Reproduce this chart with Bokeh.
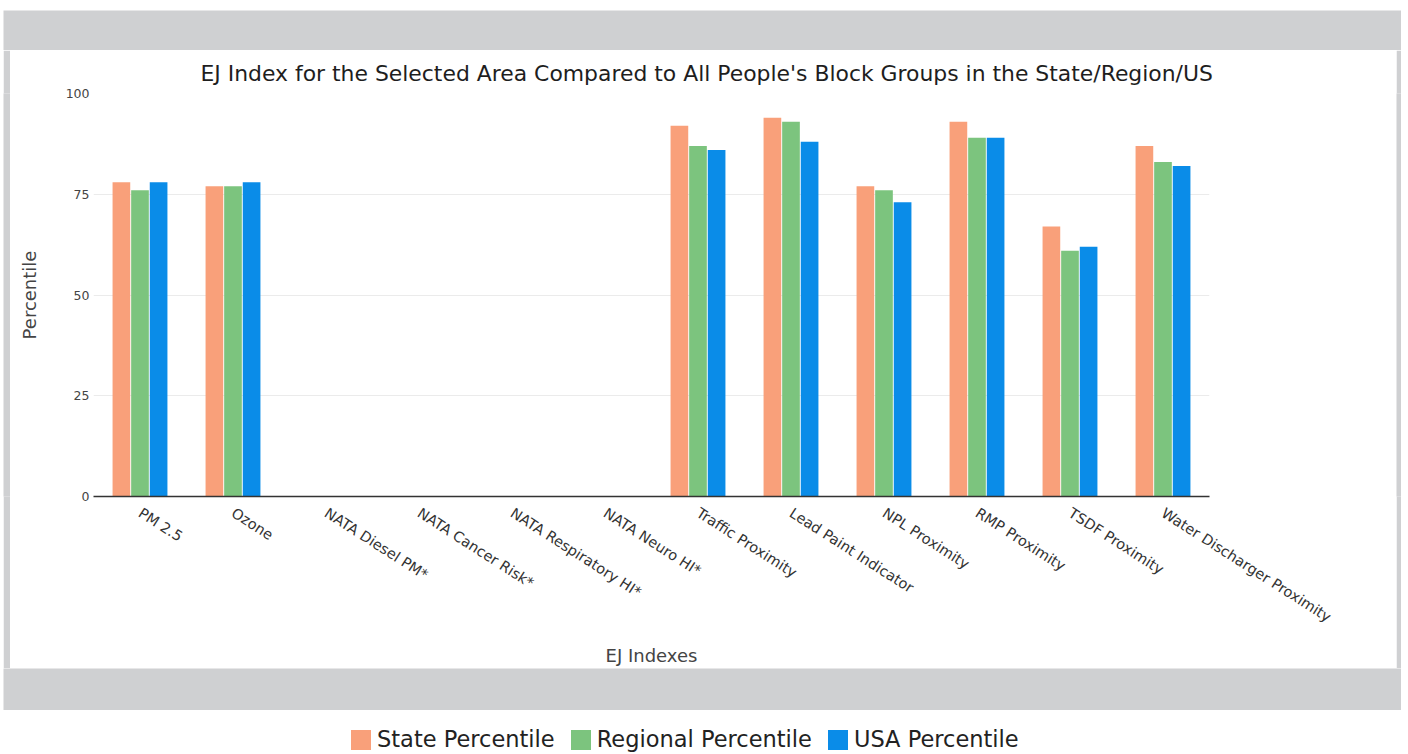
from bokeh.plotting import figure
from bokeh.models import (ColumnDataSource, FactorRange, Range1d, FixedTicker,
                          Legend, LegendItem)
from bokeh.layouts import column, row
from bokeh.transform import dodge
from bokeh.embed import file_html
from bokeh.resources import INLINE

# ---- data ----
categories = ["PM 2.5", "Ozone", "NATA Diesel PM*", "NATA Cancer Risk*",
              "NATA Respiratory HI*", "NATA Neuro HI*", "Traffic Proximity",
              "Lead Paint Indicator", "NPL Proximity", "RMP Proximity",
              "TSDF Proximity", "Water Discharger Proximity"]
state_pct = [78, 77, 0, 0, 0, 0, 92, 94, 77, 93, 67, 87]
regional_pct = [76, 77, 0, 0, 0, 0, 87, 93, 76, 89, 61, 83]
usa_pct = [78, 78, 0, 0, 0, 0, 86, 88, 73, 89, 62, 82]
y_ticks = [0, 25, 50, 75, 100]
series_names = ["State Percentile", "Regional Percentile", "USA Percentile"]

ORANGE = "#F9A07A"
GREEN = "#7CC47E"
BLUE = "#0A8CE8"
GRAY = "#cfd0d2"
FONT = "DejaVu Sans"

source = ColumnDataSource(dict(cats=categories, state=state_pct,
                               regional=regional_pct, usa=usa_pct))

x_range = FactorRange(factors=categories, range_padding=0)

p = figure(x_range=x_range, y_range=Range1d(0, 100), width=1386, height=618,
           output_backend="svg", toolbar_location=None,
           min_border_left=83, min_border_right=187, min_border_top=43,
           min_border_bottom=171, background_fill_color="white",
           border_fill_color="white", outline_line_color=None)

p.title.text = "EJ Index for the Selected Area Compared to All People's Block Groups in the State/Region/US"
p.title.align = "left"
p.title.offset = 107
p.title.text_font = FONT
p.title.text_font_size = "21.9px"
p.title.text_font_style = "normal"
p.title.text_color = "#1e1e1e"
p.title.standoff = 16

cols = ["state", "regional", "usa"]
colors = [ORANGE, GREEN, BLUE]
offsets = [-0.2, 0.0, 0.2]
for c, col, off in zip(cols, colors, offsets):
    p.vbar(x=dodge("cats", off, range=p.x_range), top=c, bottom=0, width=0.19,
           source=source, fill_color=col, line_color=None)

p.xgrid.grid_line_color = None
p.ygrid.grid_line_color = "#ebebeb"
p.ygrid.ticker = FixedTicker(ticks=y_ticks)

p.yaxis.ticker = FixedTicker(ticks=y_ticks)
p.yaxis.axis_line_color = None
p.yaxis.major_tick_line_color = None
p.yaxis.minor_tick_line_color = None
p.yaxis.major_tick_out = 0
p.yaxis.major_tick_in = 0
p.yaxis.major_label_text_font = FONT
p.yaxis.major_label_text_font_size = "12.5px"
p.yaxis.major_label_text_color = "#444444"
p.yaxis.major_label_standoff = 4
p.yaxis.axis_label = "Percentile"
p.yaxis.axis_label_text_font = FONT
p.yaxis.axis_label_text_font_size = "18px"
p.yaxis.axis_label_text_font_style = "normal"
p.yaxis.axis_label_text_color = "#444444"
p.yaxis.axis_label_standoff = 23

p.xaxis.axis_line_color = "#333333"
p.xaxis.axis_line_width = 1.5
p.xaxis.major_tick_line_color = None
p.xaxis.minor_tick_line_color = None
p.xaxis.major_tick_out = 0
p.xaxis.major_tick_in = 0
p.xaxis.major_label_orientation = -0.57
p.xaxis.major_label_text_font = FONT
p.xaxis.major_label_text_font_size = "14.5px"
p.xaxis.major_label_text_color = "#333333"
p.xaxis.major_label_standoff = 15
p.xaxis.axis_label = "EJ Indexes"
p.xaxis.axis_label_text_font = FONT
p.xaxis.axis_label_text_font_size = "18px"
p.xaxis.axis_label_text_font_style = "normal"
p.xaxis.axis_label_text_color = "#444444"
p.xaxis.axis_label_standoff = 10


def block(w, h, color):
    g = figure(width=w, height=h, output_backend="svg", toolbar_location=None,
               min_border=0, x_axis_type=None, y_axis_type=None,
               background_fill_color=color, border_fill_color=color,
               outline_line_color=None)
    return g


# legend strip below the frame (proxy bars lie outside its y-range, only the legend shows)
lf = figure(width=1401, height=44, x_range=x_range, y_range=Range1d(1000, 1001),
            output_backend="svg", toolbar_location=None, min_border=0,
            x_axis_type=None, y_axis_type=None, outline_line_color=None,
            background_fill_color="white", border_fill_color="white")
items = []
for c, col, off, name in zip(cols, colors, offsets, series_names):
    r = lf.vbar(x=dodge("cats", off, range=lf.x_range), top=c, bottom=c,
                width=0.19, source=source, fill_color=col, line_color=None)
    items.append(LegendItem(label=name, renderers=[r]))
legend = Legend(items=items, orientation="horizontal", location=(348, 2),
                glyph_width=25, glyph_height=25, label_standoff=4, spacing=13,
                padding=0, margin=0, border_line_color=None,
                background_fill_alpha=0, label_text_font=FONT,
                label_text_font_size="22.5px", label_text_color="#222222")
lf.add_layout(legend)

layout = column(
    block(1401, 10, "white"),
    row(block(3, 40, "white"), block(1398, 40, GRAY)),
    row(block(3, 618, "white"), block(7, 618, GRAY), p, block(5, 618, GRAY)),
    row(block(3, 42, "white"), block(1398, 42, GRAY)),
    lf,
)

open("out.html", "w").write(file_html(layout, INLINE))
